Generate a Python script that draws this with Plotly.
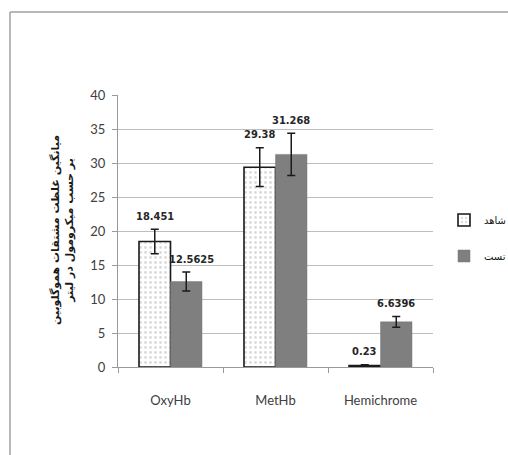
import plotly.graph_objects as go

categories = ["OxyHb", "MetHb", "Hemichrome"]
control_values = [18.451, 29.38, 0.23]
control_errors = [1.8, 2.85, 0.1]
test_values = [12.5625, 31.268, 6.6396]
test_errors = [1.4, 3.1, 0.8]
control_labels = ["18.451", "29.38", "0.23"]
test_labels = ["12.5625", "31.268", "6.6396"]
series_names = ["شاهد", "تست"]
y_title = "میانگین غلظت مشتقات هموگلوبین<br>بر حسب میکرومول در لیتر"
y_ticks = [0, 5, 10, 15, 20, 25, 30, 35, 40]

W, H = 508, 455
L, R, T, B = 118, 75, 95, 88
pw, ph = W - L - R, H - T - B

def px_x(p):
    return (p - L) / pw

def px_y(p):
    return (H - p - B) / ph

tick_font = dict(family="Lato, Calibri, sans-serif", size=13, color="#404040")
label_font = dict(family="DejaVu Sans Condensed, Liberation Sans Narrow, sans-serif",
                  size=11, color="#262626", weight="bold")

fig = go.Figure()
fig.add_trace(go.Bar(
    x=categories, y=control_values, name=series_names[0],
    legendgroup="a",
    marker=dict(color="white", line=dict(color="#1a1a1a", width=1.6),
                pattern=dict(shape=".", fgcolor="#b5b5b5", bgcolor="white",
                             size=5, solidity=0.25)),
    error_y=dict(type="data", array=control_errors, color="#1a1a1a",
                 thickness=1.5, width=4),
))
fig.add_trace(go.Bar(
    x=categories, y=test_values, name=series_names[1],
    legendgroup="b",
    marker=dict(color="#7f7f7f", line=dict(color="#7a7a7a", width=0.5)),
    error_y=dict(type="data", array=test_errors, color="#1a1a1a",
                 thickness=1.5, width=4),
))

annotations = []
for i, c in enumerate(categories):
    annotations.append(dict(
        x=c, y=control_values[i] + control_errors[i], xref="x", yref="y",
        text=control_labels[i], showarrow=False, xshift=-16, yshift=13,
        font=label_font))
    annotations.append(dict(
        x=c, y=test_values[i] + test_errors[i], xref="x", yref="y",
        text=test_labels[i], showarrow=False,
        xshift=21 if i == 0 else 15, yshift=13, font=label_font))

annotations.append(dict(
    x=px_x(62), y=px_y(230), xref="paper", yref="paper",
    text=y_title, showarrow=False, textangle=-90,
    xanchor="center", yanchor="middle",
    font=dict(family="DejaVu Sans, sans-serif", size=11, color="#1a1a1a",
              weight="bold"),
))

frame = dict(color="#a0a0a0", width=1.5)

fig.update_layout(
    width=W, height=H,
    margin=dict(l=L, r=R, t=T, b=B, autoexpand=False),
    paper_bgcolor="white", plot_bgcolor="white",
    barmode="group", bargap=0.4, bargroupgap=0.0,
    showlegend=True,
    legend=dict(x=px_x(444), y=px_y(238), xanchor="left", yanchor="middle",
                traceorder="grouped", tracegroupgap=17,
                font=dict(family="DejaVu Sans, sans-serif", size=10, color="#1a1a1a"),
                bgcolor="rgba(0,0,0,0)", itemwidth=30),
    annotations=annotations,
    shapes=[
        dict(type="line", xref="paper", yref="paper",
             x0=px_x(10), y0=px_y(12), x1=px_x(508), y1=px_y(12),
             line=frame, layer="below"),
        dict(type="line", xref="paper", yref="paper",
             x0=px_x(10), y0=px_y(12), x1=px_x(10), y1=px_y(455),
             line=frame, layer="below"),
    ],
    xaxis=dict(showline=True, linecolor="#9a9a9a", linewidth=1,
               ticks="outside", tickson="boundaries", ticklen=5,
               tickcolor="#9a9a9a", tickfont=tick_font, showgrid=False,
               ticklabelstandoff=21, range=[-0.5, 2.5]),
    yaxis=dict(range=[0, 40], tickvals=y_ticks, showline=True,
               linecolor="#9a9a9a", linewidth=1, ticks="outside", ticklen=5,
               tickcolor="#9a9a9a", tickfont=tick_font, showgrid=True,
               ticklabelstandoff=4,
               gridcolor="#bdbdbd", gridwidth=1, zeroline=False),
)

fig.write_html(
    "out.html",
    config={"displayModeBar": False},
    post_script="document.body.style.margin='0';document.body.style.overflow='hidden';",
)
